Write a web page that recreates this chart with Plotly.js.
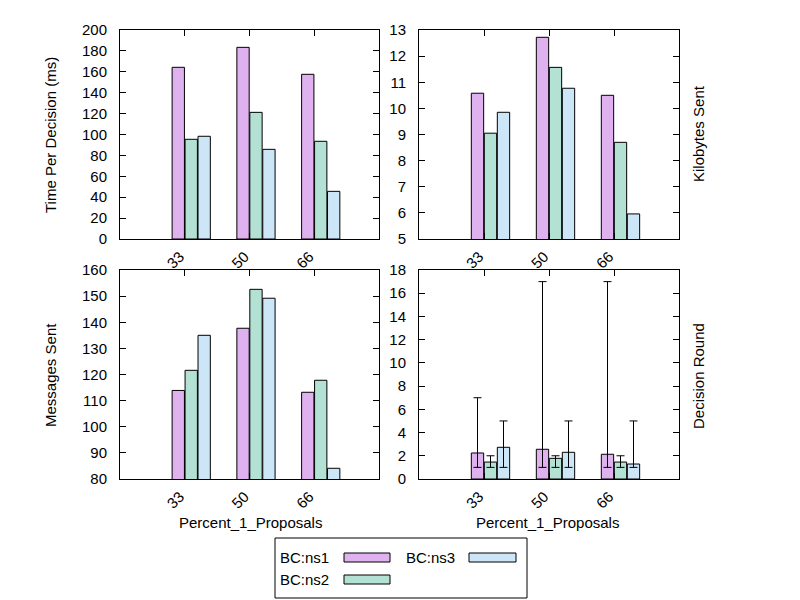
<!DOCTYPE html>
<html>
<head>
<meta charset="utf-8">
<script src="https://cdn.plot.ly/plotly-3.0.1.min.js"></script>
<style>html,body{margin:0;padding:0;background:#fff;}#chart{width:800px;height:600px;}</style>
</head>
<body>
<div id="chart"></div>
<script>
// ---- data ----
const categories = ["33", "50", "66"];
const seriesNames = ["BC:ns1", "BC:ns2", "BC:ns3"];

const timeNs1 = [164.3, 183.4, 157.6];
const timeNs2 = [95.4, 121.2, 93.5];
const timeNs3 = [98.3, 85.8, 45.6];

const kbNs1 = [10.58, 12.72, 10.50];
const kbNs2 = [9.05, 11.57, 8.70];
const kbNs3 = [9.85, 10.77, 5.96];

const msgNs1 = [113.9, 137.7, 113.2];
const msgNs2 = [121.6, 152.6, 117.8];
const msgNs3 = [135.0, 149.2, 84.1];

const roundNs1 = [2.24, 2.56, 2.13];
const roundNs2 = [1.46, 1.78, 1.46];
const roundNs3 = [2.73, 2.30, 1.29];
const roundMinNs1 = [1, 1, 1];
const roundMinNs2 = [1, 1, 1];
const roundMinNs3 = [1, 1, 1];
const roundMaxNs1 = [7, 17, 17];
const roundMaxNs2 = [2, 2, 2];
const roundMaxNs3 = [5, 5, 5];

// ---- styling ----
const colors = ["#dfb1ef", "#b3e2d5", "#cce6f8"];
const offsets = [-0.1, 0.1, 0.3];
const FONT = "Liberation Sans, Arial, Helvetica, sans-serif";
const FS = 15;
const W = 800, H = 600;
const px = x => x / W;
const py = y => 1 - y / H;

const idx = categories.map((c, i) => i);

function bars(vals, s, xa, ya, err) {
  const t = {
    type: "bar",
    x: idx.map(i => i + offsets[s]),
    y: vals,
    width: 0.19,
    xaxis: xa, yaxis: ya,
    name: seriesNames[s],
    showlegend: false,
    marker: {color: colors[s], line: {color: "#000", width: 1}},
    hoverinfo: "y"
  };
  if (err) {
    t.error_y = {
      type: "data", symmetric: false,
      array: vals.map((v, i) => err.max[i] - v),
      arrayminus: vals.map((v, i) => v - err.min[i]),
      color: "#000", thickness: 1, width: 4
    };
  }
  return t;
}

const traces = [
  bars(timeNs1, 0, "x", "y"), bars(timeNs2, 1, "x", "y"), bars(timeNs3, 2, "x", "y"),
  bars(kbNs1, 0, "x2", "y2"), bars(kbNs2, 1, "x2", "y2"), bars(kbNs3, 2, "x2", "y2"),
  bars(msgNs1, 0, "x3", "y3"), bars(msgNs2, 1, "x3", "y3"), bars(msgNs3, 2, "x3", "y3"),
  bars(roundNs1, 0, "x4", "y4", {min: roundMinNs1, max: roundMaxNs1}),
  bars(roundNs2, 1, "x4", "y4", {min: roundMinNs2, max: roundMaxNs2}),
  bars(roundNs3, 2, "x4", "y4", {min: roundMinNs3, max: roundMaxNs3})
];

const tickFont = {family: FONT, size: FS, color: "#000"};

function xax(d, anchor) {
  return {
    domain: d, anchor: anchor, range: [-1, 3],
    tickvals: idx, ticktext: categories, tickangle: -45,
    ticks: "inside", ticklen: 6, tickcolor: "#000", tickwidth: 1,
    ticklabelshift: -5, ticklabelstandoff: 2,
    showline: true, linecolor: "#000", linewidth: 1, mirror: "ticks",
    showgrid: false, zeroline: false, tickfont: tickFont, automargin: false, fixedrange: true
  };
}
function yax(d, anchor, range, dtick) {
  return {
    domain: d, anchor: anchor, range: range, dtick: dtick, tick0: range[0],
    ticks: "inside", ticklen: 6, tickcolor: "#000", tickwidth: 1,
    ticklabelstandoff: 9,
    showline: true, linecolor: "#000", linewidth: 1, mirror: "ticks",
    showgrid: false, zeroline: false, tickfont: tickFont, automargin: false, fixedrange: true
  };
}

const xL = [px(120), px(379)], xR = [px(419), px(679)];
const yT = [py(239), py(30)], yB = [py(479), py(270)];

const ann = (text, x, y, opts) => Object.assign({
  text: text, x: px(x), y: py(y), xref: "paper", yref: "paper",
  xanchor: "center", yanchor: "middle",
  showarrow: false, font: {family: FONT, size: FS, color: "#000"}
}, opts || {});

const annotations = [
  ann("Time Per Decision (ms)", 50, 135, {textangle: -90}),
  ann("Messages Sent", 50, 375, {textangle: -90}),
  ann("Kilobytes Sent", 698, 134, {textangle: -90}),
  ann("Decision Round", 698, 376, {textangle: -90}),
  ann("Percent_1_Proposals", 250, 522),
  ann("Percent_1_Proposals", 547, 522),
  ann(seriesNames[0], 278, 557, {xanchor: "left"}),
  ann(seriesNames[1], 278, 579, {xanchor: "left"}),
  ann(seriesNames[2], 404, 557, {xanchor: "left"})
];

const shapes = [
  {type: "rect", xref: "paper", yref: "paper", x0: px(275), x1: px(527), y0: py(598), y1: py(538), line: {color: "#000", width: 1}},
  {type: "rect", xref: "paper", yref: "paper", x0: px(344), x1: px(390), y0: py(562), y1: py(553), fillcolor: colors[0], line: {color: "#000", width: 1}},
  {type: "rect", xref: "paper", yref: "paper", x0: px(344), x1: px(390), y0: py(584), y1: py(575), fillcolor: colors[1], line: {color: "#000", width: 1}},
  {type: "rect", xref: "paper", yref: "paper", x0: px(469), x1: px(516), y0: py(562), y1: py(553), fillcolor: colors[2], line: {color: "#000", width: 1}}
];

const layout = {
  width: W, height: H,
  margin: {l: 0, r: 0, t: 0, b: 0},
  paper_bgcolor: "#fff", plot_bgcolor: "#fff",
  font: {family: FONT, size: FS, color: "#000"},
  barmode: "overlay",
  showlegend: false,
  xaxis: xax(xL, "y"), yaxis: yax(yT, "x", [0, 200], 20),
  xaxis2: xax(xR, "y2"), yaxis2: yax(yT, "x2", [5, 13], 1),
  xaxis3: xax(xL, "y3"), yaxis3: yax(yB, "x3", [80, 160], 10),
  xaxis4: xax(xR, "y4"), yaxis4: yax(yB, "x4", [0, 18], 2),
  annotations: annotations,
  shapes: shapes
};

Plotly.newPlot("chart", traces, layout, {displayModeBar: false, staticPlot: true});
</script>
</body>
</html>
